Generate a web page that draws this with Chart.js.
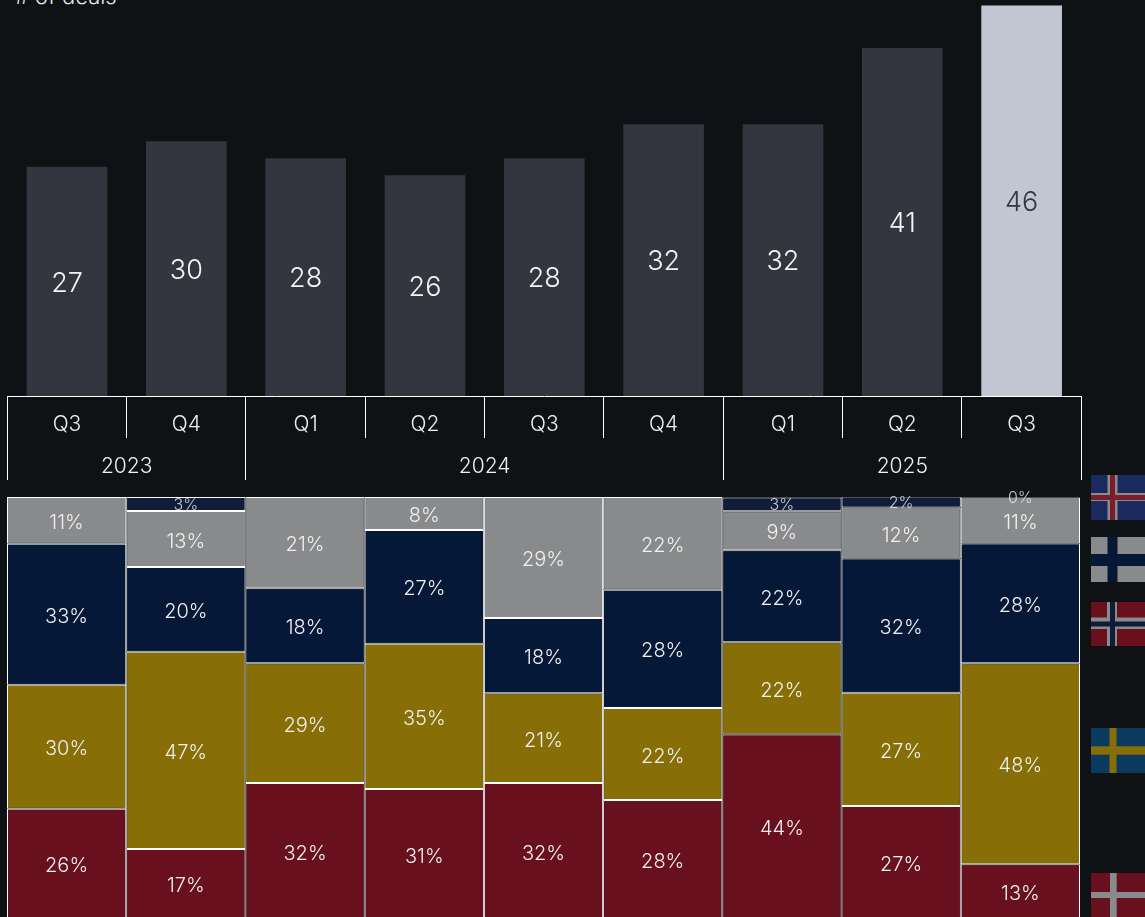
<!DOCTYPE html>
<html><head><meta charset="utf-8">
<script src="https://cdn.jsdelivr.net/npm/chart.js@4"></script>
<style>
html,body{margin:0;padding:0;background:#0E1215;overflow:hidden;width:1145px;height:917px}
#top{position:absolute;left:0;top:0}
#bot{position:absolute;left:0;top:487px}
#botwrap{position:absolute;left:0;top:0;width:1145px;height:917px;overflow:hidden}
#unit{position:absolute;left:15px;top:-17px;color:#e8e8e8;font:300 22px Inter,sans-serif;white-space:nowrap}
svg.flag{position:absolute;left:1091px;width:54px}
</style></head><body>
<div id="unit"># of deals</div>
<canvas id="top" width="1145" height="490"></canvas>
<div id="botwrap"><canvas id="bot" width="1145" height="432"></canvas></div>
<svg class="flag" style="top:475px;height:45px" viewBox="0 0 54 45"><rect width="54" height="45" fill="#1B2A5C"/><rect x="16.5" width="10" height="45" fill="#8A8B8E"/><rect y="18" width="54" height="8" fill="#8A8B8E"/><rect x="19" width="5" height="45" fill="#7C1C2A"/><rect y="20" width="54" height="5" fill="#7C1C2A"/></svg>
<svg class="flag" style="top:537px;height:45px" viewBox="0 0 54 45"><rect width="54" height="45" fill="#898A8C"/><rect x="16.5" width="10" height="45" fill="#051838"/><rect y="17" width="54" height="12" fill="#051838"/></svg>
<svg class="flag" style="top:602px;height:44px" viewBox="0 0 54 44"><rect width="54" height="44" fill="#69101F"/><rect x="16" width="10" height="44" fill="#898A8C"/><rect y="15.5" width="54" height="11.5" fill="#898A8C"/><rect x="19" width="5" height="44" fill="#0F1C3A"/><rect y="19.5" width="54" height="5" fill="#0F1C3A"/></svg>
<svg class="flag" style="top:728px;height:45px" viewBox="0 0 54 45"><rect width="54" height="45" fill="#0B3A5E"/><rect x="18.5" width="7" height="45" fill="#886E07"/><rect y="18.3" width="54" height="8.4" fill="#886E07"/></svg>
<svg class="flag" style="top:873px;height:44px" viewBox="0 0 54 44"><rect width="54" height="44" fill="#69101F"/><rect x="19" width="6.7" height="44" fill="#898A8C"/><rect y="19" width="54" height="6" fill="#898A8C"/></svg>
<script>
const quarters = ["Q3","Q4","Q1","Q2","Q3","Q4","Q1","Q2","Q3"];
const years = ["2023","2024","2025"];
const yearSpans = [2,4,3];
const deals = [27,30,28,26,28,32,32,41,46];
const denmark = [26.1,16.6,32.2,30.8,32.2,28.2,43.7,26.8,13.0];
const sweden  = [29.4,46.7,28.4,34.4,21.3,21.8,21.9,26.8,47.6];
const norway  = [33.4,20.1,17.8,27.0,17.8,28.0,21.8,31.8,28.4];
const finland = [11.1,13.3,21.6,7.8,28.7,22.0,9.2,12.1,10.9];
const iceland = [0,3.3,0,0,0,0,3.3,2.6,0];
const denmarkLabels = [26,17,32,31,32,28,44,27,13];
const swedenLabels  = [30,47,29,35,21,22,22,27,48];
const norwayLabels  = [33,20,18,27,18,28,22,32,28];
const finlandLabels = [11,13,21,8,29,22,9,12,11];
const icelandLabels = [null,3,null,null,null,null,3,2,0];

const FF = 'Inter, sans-serif';
const TXT = '#F0F0F0';
Chart.defaults.animation = false;
Chart.defaults.responsive = false;
Chart.defaults.plugins.legend.display = false;
Chart.defaults.plugins.tooltip.enabled = false;

const topPlugin = {
  id:'topPlugin',
  afterDatasetsDraw(c){
    const g=c.ctx, meta=c.getDatasetMeta(0), x=c.scales.x;
    g.save();
    g.font='300 27px '+FF; g.textAlign='center'; g.textBaseline='middle';
    meta.data.forEach((b,i)=>{
      g.fillStyle = i===deals.length-1 ? '#33363E' : '#F4F4F4';
      g.fillText(String(deals[i]), b.x, (b.y+b.base)/2+2);
    });
    const step = x.getPixelForValue(1)-x.getPixelForValue(0);
    const edge = i => x.getPixelForValue(0)-step/2+step*i;
    const base = x.top;
    g.strokeStyle='#FFFFFF'; g.lineWidth=1;
    let pos=0;
    const seps=[0];
    yearSpans.forEach((n,k)=>{
      g.fillStyle=TXT; g.font='300 21px '+FF;
      g.fillText(years[k],(edge(pos)+edge(pos+n))/2,base+71);
      pos+=n; seps.push(pos);
    });
    seps.forEach(s=>{
      const px=Math.floor(edge(s));
      g.beginPath(); g.moveTo(px+0.5,base); g.lineTo(px+0.5,base+84); g.stroke();
    });
    g.restore();
  }
};
new Chart(document.getElementById('top'),{
  type:'bar',
  data:{labels:quarters,datasets:[{data:deals,
    backgroundColor:deals.map((v,i)=>i===deals.length-1?'#C1C6D3':'#33363E'),
    barThickness:80}]},
  options:{
    layout:{padding:{left:7.3,right:63.7,top:0,bottom:0}},
    scales:{
      y:{display:false,min:0,max:46.7},
      x:{
        offset:true,
        afterFit(s){s.height=94;},
        border:{color:'#FFFFFF',width:1},
        grid:{drawOnChartArea:false,color:'#FFFFFF',tickLength:42,tickWidth:1},
        ticks:{color:TXT,font:{family:FF,size:21,weight:300},padding:-26,maxRotation:0,autoSkip:false}
      }
    }
  },
  plugins:[topPlugin]
});

const botPlugin = {
  id:'botPlugin',
  afterDatasetsDraw(c){
    const g=c.ctx;
    g.save(); g.textAlign='center'; g.textBaseline='middle';
    c.data.datasets.forEach((ds,d)=>{
      c.getDatasetMeta(d).data.forEach((b,i)=>{
        const lab=ds.labelsText[i];
        if(lab===null) return;
        const small = ds.label==='Iceland';
        g.font = (small?'300 16px ':'300 20px ')+FF;
        g.fillStyle = small?'rgba(240,240,240,0.8)':TXT;
        g.fillText(lab+'%', b.x, (b.y+b.base)/2+(small?1:2.5));
      });
    });
    g.restore();
  }
};
const mk=(label,data,labelsText,color)=>({label,data,labelsText,backgroundColor:color,
  borderColor:'#FFFFFF',borderWidth:1,borderSkipped:false,inflateAmount:0});
new Chart(document.getElementById('bot'),{
  type:'bar',
  data:{labels:quarters,datasets:[
    mk('Denmark',denmark,denmarkLabels,'#69101F'),
    mk('Sweden',sweden,swedenLabels,'#886E07'),
    mk('Norway',norway,norwayLabels,'#051838'),
    mk('Finland',finland,finlandLabels,'#898A8C'),
    mk('Iceland',iceland,icelandLabels,'#0F1C3A')
  ]},
  options:{
    layout:{padding:{left:7,right:65,top:10,bottom:0}},
    datasets:{bar:{barPercentage:1,categoryPercentage:1}},
    scales:{
      x:{display:false,stacked:true},
      y:{display:false,stacked:true,min:0,max:100}
    }
  },
  plugins:[botPlugin]
});
</script>
</body></html>
